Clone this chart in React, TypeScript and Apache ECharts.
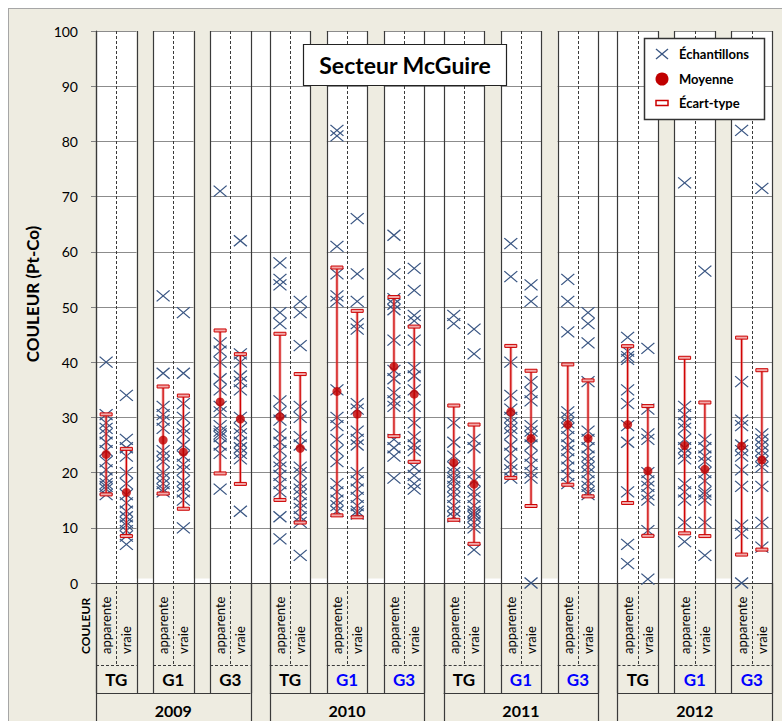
import React, { useEffect, useRef } from "react";
import * as echarts from "echarts";

// ---------- data ----------
const years = ["2009", "2010", "2011", "2012"];
const sites = ["TG", "G1", "G3"];
const types = ["apparente", "vraie"];
const yTicks = { min: 0, max: 100, interval: 10 };

// samples per year: [TG app, TG vraie, G1 app, G1 vraie, G3 app, G3 vraie]
const samples2009 = [
  [40, 30.5, 29, 28, 27, 25.5, 24, 22, 20.5, 19, 18, 17.5, 17, 16],
  [34, 26, 24.5, 23, 20, 18, 16, 14.5, 13, 12, 11, 10.5, 9.5, 8.5, 7],
  [52, 38, 32, 30.5, 29.5, 28, 24, 23, 22, 20, 19, 18, 17, 16.5],
  [49, 38, 32.5, 30, 28, 27, 25, 23, 21.5, 20.5, 18.5, 17.5, 16.5, 15, 10],
  [71, 43.5, 42, 40, 37, 35, 32, 31, 28.5, 27.5, 27, 26.5, 25, 23.5, 17],
  [62, 41.5, 40, 37.5, 36.5, 35, 30, 28, 27, 25.5, 24.5, 23.5, 22.5, 13],
];
const samples2010 = [
  [58, 55, 54, 49, 47, 33, 31, 29.5, 27, 25.5, 24, 22, 21, 19.5, 18, 16.5, 12, 8],
  [51, 49, 43, 32, 30, 26.5, 25, 21, 20, 18, 17, 16, 14.5, 13.5, 12, 11, 5],
  [82, 81, 61, 56, 52, 51, 35, 30, 28.5, 26, 24, 22, 18, 16.5, 15, 14, 13],
  [66, 56, 51, 47, 46, 32.5, 31.5, 27.5, 26, 25, 20, 18.5, 17, 15.5, 14, 13, 12.5],
  [63, 56, 51.5, 50.5, 49.5, 44, 38.5, 37, 34.5, 33, 32, 26, 24.5, 23, 19],
  [57, 53, 48.5, 47.5, 44, 39, 37.5, 35, 32, 29, 26.5, 25, 24, 21, 19.5, 18, 17],
];
const samples2011 = [
  [48.5, 47, 29, 25.5, 23, 21, 20, 19, 18.5, 17.5, 16.5, 15.5, 14, 13, 12],
  [46, 41.5, 26, 24.5, 20, 18.5, 16.5, 15.5, 14, 13, 12.5, 12, 11, 10, 6],
  [61.5, 55.5, 40, 34, 31.5, 30, 29, 28, 27, 25, 23.5, 21.5, 20.5, 19],
  [54, 51, 36.5, 34.5, 33, 28.5, 27.5, 26.5, 25, 23, 21.5, 20, 19, 0],
  [55, 51, 45.5, 31, 30, 29, 28, 26.5, 25, 24, 22.5, 21, 19.5, 18],
  [49, 47, 43.5, 36.5, 27.5, 26, 24.5, 23, 22, 21, 20, 18.5, 17.5, 16.5, 16],
];
const samples2012 = [
  [44.5, 42, 41, 40.5, 35, 32.5, 28.5, 25.5, 16.5, 7, 3.5],
  [42.5, 31.5, 27, 26, 20, 18.5, 17.5, 16, 15, 9.5, 0.7],
  [72.5, 32, 30.5, 29, 28, 26, 24.5, 23.5, 22.5, 18, 16.5, 15, 11, 7.5],
  [56.5, 26, 24.5, 23, 22, 20, 18.5, 16.5, 16, 15, 11, 5],
  [82, 36.5, 29.5, 28.5, 25, 24, 23, 20.5, 17.5, 10.5, 9, 0],
  [71.5, 27, 26, 25, 24, 23, 22, 21, 17.5, 11, 6.5],
];
const samplesByYear = [samples2009, samples2010, samples2011, samples2012];

// means and standard deviations (24 columns in the same order)
const means = [
  23.3, 16.4, 25.9, 23.7, 32.8, 29.7,
  30.1, 24.4, 34.7, 30.6, 39.2, 34.2,
  21.8, 17.9, 31.0, 26.2, 28.7, 26.2,
  28.7, 20.3, 24.9, 20.6, 24.8, 22.3,
];
const stdDevs = [
  7.25, 7.9, 9.7, 10.25, 12.95, 11.75,
  15.05, 13.45, 22.45, 18.7, 12.6, 12.25,
  10.35, 10.8, 11.95, 12.25, 10.9, 10.5,
  14.2, 11.75, 15.9, 12.1, 19.65, 16.25,
];

// ---------- layout (x axis units) ----------
const SUB = 20.25;
const SITE_W = 2 * SUB;
const GAP_W = 16.5;
const YEAR_GAP = 19.33;
const YEAR_W = 3 * SITE_W + 2 * GAP_W;
const X_MAX = 4 * YEAR_W + 3 * YEAR_GAP;

const yearStart = (y: number) => y * (YEAR_W + YEAR_GAP);
const siteStart = (y: number, s: number) => yearStart(y) + s * (SITE_W + GAP_W);
const colX = (y: number, s: number, t: number) => siteStart(y, s) + t * SUB + SUB / 2;

const FONT = "Lato, 'Open Sans', sans-serif";
const BEIGE = "#EEECE1";
const LINE = "#3a3a3a";
const XCOLOR = "#3A5683";
const RED = "#C00000";
const X_PATH = "path://M0,0L12,10M12,0L0,10";

const px = (v: number) => Math.round(v) + 0.5;

export default function App() {
  const ref = useRef<HTMLDivElement>(null);

  useEffect(() => {
    if (!ref.current) return;
    const chart = echarts.init(ref.current, undefined, { renderer: "svg" });

    const samplePoints: number[][] = [];
    const meanPoints: number[][] = [];
    const errData: number[][] = [];
    samplesByYear.forEach((cols, yi) => {
      cols.forEach((vals, ci) => {
        const si = Math.floor(ci / 2);
        const ti = ci % 2;
        const x = colX(yi, si, ti);
        vals.forEach((v) => samplePoints.push([x, v]));
        const k = yi * 6 + ci;
        meanPoints.push([x, means[k]]);
        errData.push([x, means[k], stdDevs[k]]);
      });
    });

    const gapData: number[][] = [];
    const siteData: number[][] = [];
    const yearData: number[][] = [];
    years.forEach((_, yi) => {
      yearData.push([yi, 0]);
      sites.forEach((_, si) => {
        siteData.push([yi, si]);
        if (si < 2) gapData.push([yi, si]);
      });
    });

    const gapRender = (params: any, api: any) => {
      const yi = api.value(0);
      const si = api.value(1);
      const x0 = siteStart(yi, si) + SITE_W;
      const [xa, top] = api.coord([x0, 100]);
      const [xb, y0] = api.coord([x0 + GAP_W, 0]);
      return {
        type: "rect",
        shape: { x: xa, y: top - 0.5, width: xb - xa, height: y0 - 4 - top },
        style: { fill: BEIGE },
      };
    };

    const siteRender = (params: any, api: any) => {
      const yi = api.value(0);
      const si = api.value(1);
      const s0 = siteStart(yi, si);
      const [xa, top] = api.coord([s0, 100]);
      const [xb, y0] = api.coord([s0 + SITE_W, 0]);
      const xm = api.coord([s0 + SUB, 0])[0];
      const children: any[] = [
        { type: "line", shape: { x1: px(xa), y1: top, x2: px(xa), y2: y0 + 110 }, style: { stroke: LINE, lineWidth: 1.2 } },
        { type: "line", shape: { x1: px(xb), y1: top, x2: px(xb), y2: y0 + 110 }, style: { stroke: LINE, lineWidth: 1.2 } },
        { type: "line", shape: { x1: px(xm), y1: top, x2: px(xm), y2: y0 + 82 }, style: { stroke: LINE, lineWidth: 1, lineDash: [3, 2] } },
        { type: "line", shape: { x1: xa, y1: y0 + 82.5, x2: xb, y2: y0 + 82.5 }, style: { stroke: LINE, lineWidth: 1, lineDash: [3, 2] } },
      ];
      types.forEach((t, ti) => {
        const xc = api.coord([colX(yi, si, ti), 0])[0];
        children.push({
          type: "text",
          x: xc,
          y: y0 + 71,
          rotation: Math.PI / 2,
          style: { text: t, fill: "#000", font: `13px ${FONT}`, align: "left", verticalAlign: "middle" },
        });
      });
      const blue = yi > 0 && si > 0;
      children.push({
        type: "text",
        x: (xa + xb) / 2,
        y: y0 + 96,
        style: { text: sites[si], fill: blue ? "#0000FF" : "#000", font: `bold 17px ${FONT}`, align: "center", verticalAlign: "middle" },
      });
      return { type: "group", children };
    };

    const yearRender = (params: any, api: any) => {
      const yi = api.value(0);
      const ys = yearStart(yi);
      const [xa, y0] = api.coord([ys, 0]);
      const xb = api.coord([ys + YEAR_W, 0])[0];
      return {
        type: "group",
        children: [
          { type: "line", shape: { x1: px(xa), y1: y0, x2: px(xa), y2: 730 }, style: { stroke: LINE, lineWidth: 1.2 } },
          { type: "line", shape: { x1: px(xb), y1: y0, x2: px(xb), y2: 730 }, style: { stroke: LINE, lineWidth: 1.2 } },
          { type: "line", shape: { x1: xa, y1: y0 + 110.5, x2: xb, y2: y0 + 110.5 }, style: { stroke: LINE, lineWidth: 1.2 } },
          {
            type: "text",
            x: (xa + xb) / 2,
            y: y0 + 127,
            style: { text: years[yi], fill: "#000", font: `bold 16px ${FONT}`, align: "center", verticalAlign: "middle" },
          },
        ],
      };
    };

    const errRender = (params: any, api: any) => {
      const x = api.value(0);
      const m = api.value(1);
      const sd = api.value(2);
      const [cx, yt] = api.coord([x, m + sd]);
      const yb = api.coord([x, m - sd])[1];
      const cap = (y: number) => ({
        type: "rect",
        shape: { x: cx - 6, y: y - 1.5, width: 12, height: 3 },
        style: { fill: "#F2AAAA", stroke: "#CC0000", lineWidth: 1 },
      });
      return {
        type: "group",
        children: [
          { type: "line", shape: { x1: cx, y1: yt, x2: cx, y2: yb }, style: { stroke: "rgba(225,110,110,0.55)", lineWidth: 3 } },
          { type: "line", shape: { x1: cx, y1: yt, x2: cx, y2: yb }, style: { stroke: "#D00000", lineWidth: 1.2 } },
          cap(yt),
          cap(yb),
        ],
      };
    };

    const Z = 100;
    const legendFont = `bold 13px ${FONT}`;

    chart.setOption({
      animation: false,
      backgroundColor: "transparent",
      grid: { left: 96, top: 31, width: 676, height: 552, show: true, backgroundColor: "#ffffff", borderWidth: 0 },
      xAxis: {
        type: "value",
        min: 0,
        max: X_MAX,
        axisLine: { show: true, onZero: false, lineStyle: { color: "#404040", width: 1.2 } },
        axisTick: { show: false },
        axisLabel: { show: false },
        splitLine: { show: false },
      },
      yAxis: {
        type: "value",
        min: yTicks.min,
        max: yTicks.max,
        interval: yTicks.interval,
        name: "COULEUR (Pt-Co)",
        nameLocation: "middle",
        nameRotate: 90,
        nameGap: 55,
        nameTextStyle: { fontFamily: FONT, fontWeight: "bold", fontSize: 17, color: "#000", padding: [0, 0, 0, 26] },
        axisLine: { show: true, lineStyle: { color: "#404040", width: 1.2 } },
        axisTick: { show: true, length: 5, lineStyle: { color: "#808080" } },
        axisLabel: { margin: 18, fontFamily: FONT, fontSize: 14, color: "#000" },
        splitLine: { lineStyle: { color: "#8c8c8c", width: 1 } },
      },
      series: [
        { type: "custom", name: "gaps", renderItem: gapRender, data: gapData, z: 1, silent: true },
        { type: "custom", name: "frame", renderItem: siteRender, data: siteData, z: 2, silent: true },
        { type: "custom", name: "yearFrame", renderItem: yearRender, data: yearData, z: 2, silent: true },
        {
          type: "scatter",
          name: "Échantillons",
          data: samplePoints,
          symbol: X_PATH,
          symbolSize: [13, 11],
          itemStyle: { color: "rgba(0,0,0,0)", borderColor: XCOLOR, borderWidth: 1.2, opacity: 1 },
          z: 3,
        },
        { type: "custom", name: "Écart-type", renderItem: errRender, data: errData, z: 4 },
        {
          type: "scatter",
          name: "Moyenne",
          data: meanPoints,
          symbol: "circle",
          symbolSize: 9,
          itemStyle: { color: RED },
          z: 5,
        },
      ],
      graphic: [
        {
          type: "text",
          x: 85,
          y: 654,
          rotation: Math.PI / 2,
          z: Z,
          style: { text: "COULEUR", fill: "#000", font: `bold 12px ${FONT}`, align: "left", verticalAlign: "middle" },
        },
        { type: "rect", z: Z, shape: { x: 303.5, y: 44.5, width: 203, height: 41 }, style: { fill: "#fff", stroke: "#222", lineWidth: 1.2 } },
        {
          type: "text",
          z: Z + 1,
          x: 405,
          y: 65,
          style: { text: "Secteur McGuire", fill: "#000", font: `bold 23px ${FONT}`, align: "center", verticalAlign: "middle" },
        },
        { type: "rect", z: Z, shape: { x: 644.5, y: 38.5, width: 120, height: 81 }, style: { fill: "#fff", stroke: "#333", lineWidth: 1.5 } },
        { type: "line", z: Z + 1, shape: { x1: 656, y1: 49, x2: 668, y2: 59 }, style: { stroke: XCOLOR, lineWidth: 1.3 } },
        { type: "line", z: Z + 1, shape: { x1: 668, y1: 49, x2: 656, y2: 59 }, style: { stroke: XCOLOR, lineWidth: 1.3 } },
        { type: "text", z: Z + 1, x: 679, y: 54, style: { text: "Échantillons", fill: "#000", font: legendFont, align: "left", verticalAlign: "middle" } },
        { type: "circle", z: Z + 1, shape: { cx: 662, cy: 79, r: 6.5 }, style: { fill: RED } },
        { type: "text", z: Z + 1, x: 679, y: 79, style: { text: "Moyenne", fill: "#000", font: legendFont, align: "left", verticalAlign: "middle" } },
        { type: "rect", z: Z + 1, shape: { x: 656, y: 100.5, width: 12, height: 5 }, style: { fill: "#fff", stroke: "#CC0000", lineWidth: 1.5 } },
        { type: "text", z: Z + 1, x: 679, y: 103, style: { text: "Écart-type", fill: "#000", font: legendFont, align: "left", verticalAlign: "middle" } },
      ],
    });

    return () => chart.dispose();
  }, []);

  return (
    <div style={{ position: "absolute", left: 0, top: 0, width: 782, height: 721, background: "#fff", overflow: "hidden" }}>
      <div
        style={{
          position: "absolute",
          left: 8,
          top: 8,
          width: 800,
          height: 800,
          background: BEIGE,
          borderLeft: "1px solid #A6A6A6",
          borderTop: "1px solid #A6A6A6",
        }}
      />
      <div ref={ref} style={{ position: "absolute", left: 0, top: 0, width: 782, height: 721 }} />
    </div>
  );
}
